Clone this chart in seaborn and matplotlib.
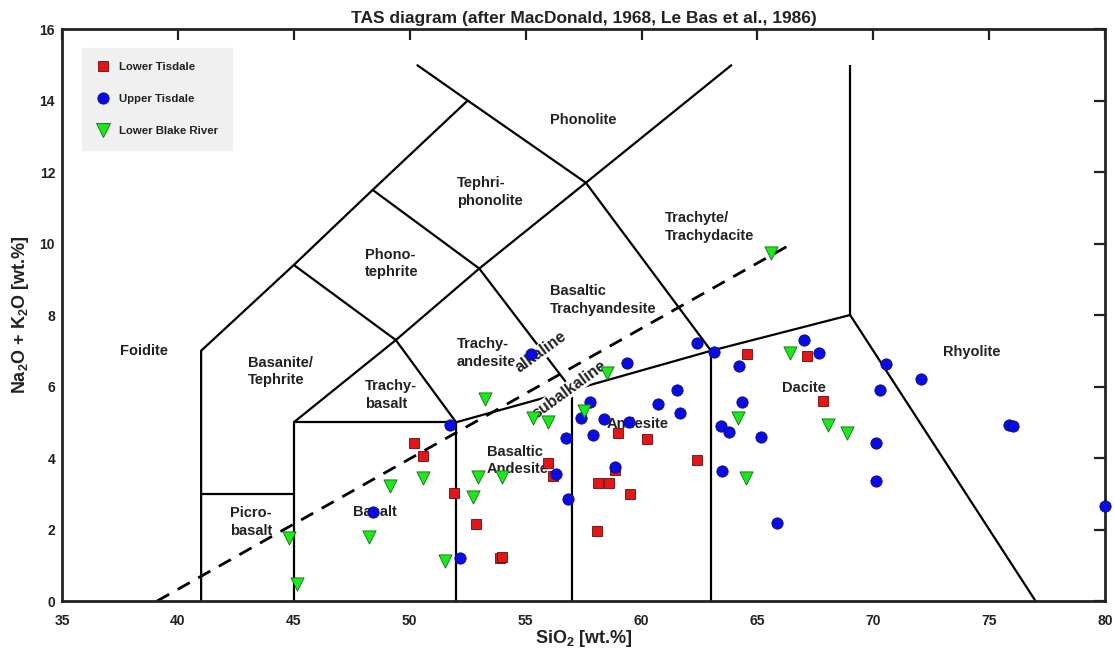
import matplotlib
matplotlib.use("Agg")
import matplotlib.pyplot as plt
import numpy as np
import pandas as pd
import seaborn as sns
from matplotlib.lines import Line2D

# ---- sample compositions (SiO2 wt.%, Na2O+K2O wt.%) ----
lower_tisdale_sio2 = [50.19, 50.59, 51.90, 59.00, 55.95, 56.20, 58.86, 58.14, 58.60, 59.50,
                      52.86, 58.07, 53.90, 54.00, 64.57, 67.12, 67.83, 60.22, 62.38]
lower_tisdale_alk = [4.41, 4.07, 3.03, 4.69, 3.85, 3.50, 3.66, 3.31, 3.31, 2.98,
                     2.15, 1.96, 1.19, 1.24, 6.90, 6.85, 5.60, 4.52, 3.94]

upper_tisdale_sio2 = [51.74, 48.40, 52.15, 55.23, 59.38, 57.78, 57.38, 58.38, 57.89, 56.74,
                      56.31, 58.86, 56.84, 62.38, 63.14, 67.67, 67.01, 64.21, 61.52, 60.70,
                      61.66, 64.32, 59.47, 63.42, 63.79, 65.16, 63.49, 65.83, 70.55, 72.06,
                      70.29, 70.10, 70.10, 75.87, 76.04, 80.00]
upper_tisdale_alk = [4.92, 2.48, 1.19, 6.91, 6.65, 5.58, 5.11, 5.08, 4.64, 4.55,
                     3.55, 3.76, 2.84, 7.23, 6.96, 6.93, 7.30, 6.58, 5.90, 5.51,
                     5.25, 5.56, 5.02, 4.90, 4.74, 4.58, 3.65, 2.17, 6.63, 6.20,
                     5.90, 4.41, 3.36, 4.92, 4.90, 2.67]

lower_blake_sio2 = [49.15, 50.59, 44.78, 48.26, 51.52, 45.12, 58.50, 53.25, 57.52, 55.33,
                    55.95, 52.96, 53.97, 52.74, 66.41, 64.18, 68.03, 64.51, 65.59, 68.85]
lower_blake_alk = [3.22, 3.43, 1.77, 1.80, 1.13, 0.49, 6.39, 5.64, 5.31, 5.11,
                   5.02, 3.48, 3.48, 2.92, 6.93, 5.11, 4.92, 3.45, 9.73, 4.69]

units = ["Lower Tisdale", "Upper Tisdale", "Lower Blake River"]

# ---- TAS field boundaries (Le Bas et al., 1986) ----
tas_boundaries = [
    [(41, 0), (41, 7), (45, 9.4), (48.4, 11.5), (52.5, 14)],
    [(50.3, 15), (52.5, 14), (57.6, 11.7), (63, 7)],
    [(45, 0), (45, 5), (52, 5), (52, 0)],
    [(41, 3), (45, 3)],
    [(45, 5), (49.4, 7.3), (53, 9.3), (57.6, 11.7), (63.9, 15)],
    [(45, 9.4), (49.4, 7.3), (52, 5)],
    [(48.4, 11.5), (53, 9.3), (57, 5.9), (57, 0)],
    [(52, 5), (57, 5.9), (63, 7), (69, 8), (77, 0)],
    [(63, 0), (63, 7)],
    [(69, 8), (69, 15)],
]

# alkaline / subalkaline divide (MacDonald, 1968)
divide_sio2 = [39.1, 66.5]
divide_alk = [0.0, 10.0]

field_names = ["Foidite", "Basanite/\nTephrite", "Trachy-\nbasalt", "Picro-\nbasalt", "Basalt",
               "Basaltic\nAndesite", "Andesite", "Dacite", "Rhyolite", "Trachy-\nandesite",
               "Basaltic\nTrachyandesite", "Trachyte/\nTrachydacite", "Phonolite",
               "Tephri-\nphonolite", "Phono-\ntephrite"]
field_sio2 = [37.5, 43.02, 48.07, 42.25, 47.55, 53.33, 58.51, 66.06, 73.0, 52.04,
              56.05, 61.01, 56.05, 52.04, 48.07]
field_alk = [7.0, 6.43, 5.76, 2.21, 2.49, 3.94, 4.95, 5.96, 6.97, 6.94,
             8.42, 10.46, 13.45, 11.44, 9.45]

x_ticks = [35, 40, 45, 50, 55, 60, 65, 70, 75, 80]
y_ticks = [0, 2, 4, 6, 8, 10, 12, 14, 16]

# ---- styling ----
sns.set_theme(style="white")
plt.rcParams["font.family"] = ["Liberation Sans", "DejaVu Sans"]
plt.rcParams["font.weight"] = "bold"
plt.rcParams["mathtext.fontset"] = "custom"
plt.rcParams["mathtext.rm"] = "Liberation Sans:bold"
plt.rcParams["mathtext.bf"] = "Liberation Sans:bold"
plt.rcParams["mathtext.it"] = "Liberation Sans:bold"
plt.rcParams["mathtext.default"] = "bf"

ink = "#222222"
unit_style = {
    "Lower Tisdale": dict(marker="s", color="#e81414", s=46, edgecolor="#5a1010"),
    "Upper Tisdale": dict(marker="o", color="#0a0aee", s=66, edgecolor="#101060"),
    "Lower Blake River": dict(marker="v", color="#14ee14", s=90, edgecolor="#206020"),
}

df = pd.concat([
    pd.DataFrame({"SiO2": lower_tisdale_sio2, "alk": lower_tisdale_alk, "unit": units[0]}),
    pd.DataFrame({"SiO2": upper_tisdale_sio2, "alk": upper_tisdale_alk, "unit": units[1]}),
    pd.DataFrame({"SiO2": lower_blake_sio2, "alk": lower_blake_alk, "unit": units[2]}),
], ignore_index=True)

fig = plt.figure(figsize=(11.14, 6.55), dpi=100)
ax = fig.add_axes([0.0557, 0.0824, 0.9363, 0.8733])

# field boundaries
for seg in tas_boundaries:
    xs, ys = zip(*seg)
    ax.plot(xs, ys, color="black", lw=1.6, zorder=1, solid_capstyle="butt")

ax.plot(divide_sio2, divide_alk, color="black", lw=2.0, ls=(0, (5, 3.5)), zorder=1)

# field names
for name, x, y in zip(field_names, field_sio2, field_alk):
    ax.text(x, y, name, ha="left", va="center", fontsize=10.5, fontweight="bold",
            color=ink, linespacing=1.3, zorder=2)

ax.text(55.66, 6.97, "alkaline", rotation=36, rotation_mode="anchor", ha="center", va="center",
        fontsize=11.5, fontweight="bold", color=ink, zorder=2,
        bbox=dict(facecolor="white", edgecolor="none", pad=0.5))
ax.text(56.87, 5.92, "subalkaline", rotation=36, rotation_mode="anchor", ha="center", va="center",
        fontsize=11.5, fontweight="bold", color=ink, zorder=2,
        bbox=dict(facecolor="white", edgecolor="none", pad=0.5))

# samples
for unit in units:
    st = unit_style[unit]
    sns.scatterplot(data=df[df["unit"] == unit], x="SiO2", y="alk", ax=ax,
                    marker=st["marker"], color=st["color"], s=st["s"],
                    edgecolor=st["edgecolor"], linewidth=0.6, zorder=3,
                    clip_on=False, legend=False)

ax.set_xlim(35, 80)
ax.set_ylim(0, 16)
ax.set_xticks(x_ticks)
ax.set_yticks(y_ticks)
ax.tick_params(direction="in", length=8, width=1.6, top=True, right=True,
               labelsize=10, colors=ink)
ax.tick_params(axis="x", pad=9)
ax.tick_params(axis="y", pad=5)
for lab in ax.get_xticklabels() + ax.get_yticklabels():
    lab.set_fontweight("bold")
for sp in ax.spines.values():
    sp.set_linewidth(2.0)
    sp.set_color(ink)
    sp.set_visible(True)

ax.set_title("TAS diagram (after MacDonald, 1968, Le Bas et al., 1986)",
             fontsize=12.5, fontweight="bold", color=ink, pad=4)
ax.set_xlabel("SiO$_2$ [wt.%]", fontsize=13, fontweight="bold", color=ink, labelpad=0)
ax.set_ylabel("Na$_2$O + K$_2$O [wt.%]", fontsize=13, fontweight="bold", color=ink, labelpad=6)

handles = [Line2D([], [], ls="none", marker=unit_style[u]["marker"],
                  markerfacecolor=unit_style[u]["color"],
                  markeredgecolor=unit_style[u]["edgecolor"], markeredgewidth=0.6,
                  markersize=np.sqrt(unit_style[u]["s"])) for u in units]
leg = ax.legend(handles, units, loc="upper left", bbox_to_anchor=(0.019, 0.967),
                borderaxespad=0, frameon=True, fancybox=False,
                labelspacing=1.95, borderpad=1.2, handletextpad=0.75, handlelength=1.3,
                prop=dict(weight="bold", size=8.2))
leg.get_frame().set_facecolor("#f0f0f0")
leg.get_frame().set_edgecolor("#f0f0f0")
leg.get_frame().set_alpha(1.0)
for t in leg.get_texts():
    t.set_color(ink)

fig.savefig("out.png", dpi=100, facecolor="white")
